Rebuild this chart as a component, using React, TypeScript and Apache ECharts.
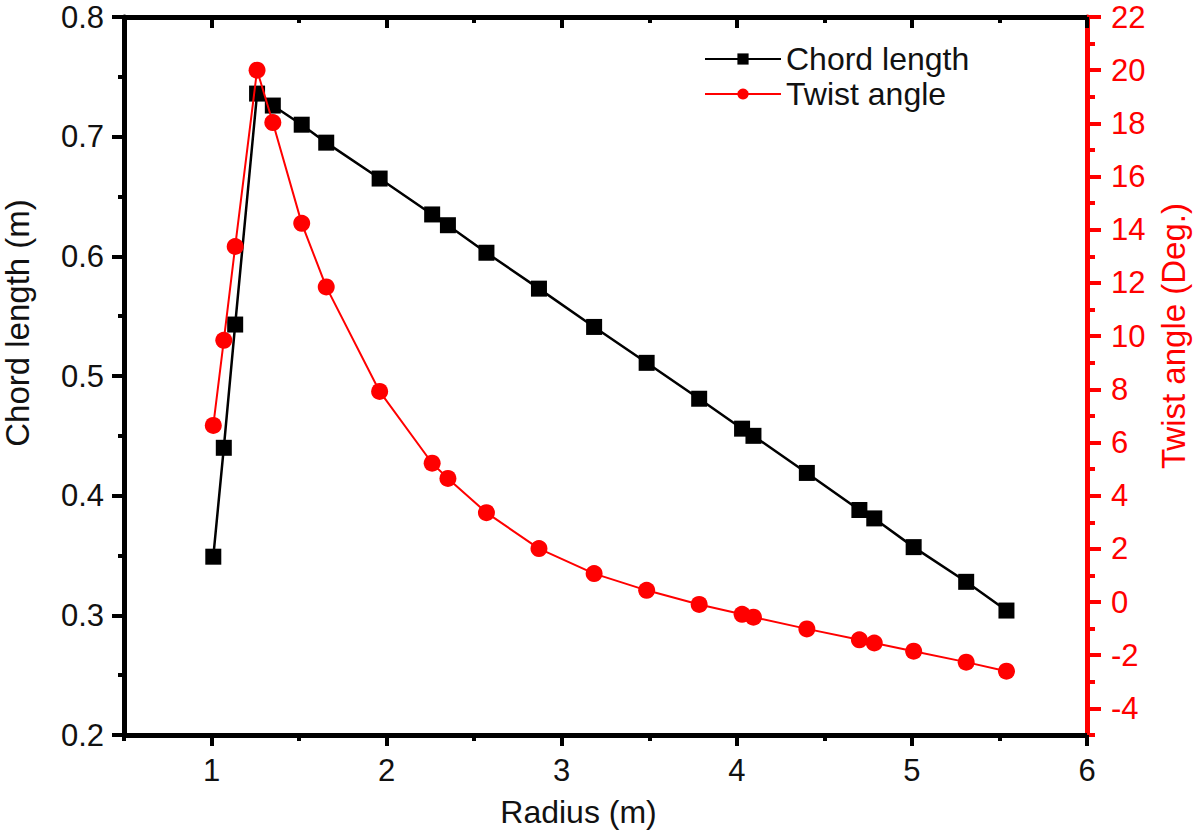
import { useEffect, useRef } from "react";
import * as echarts from "echarts";

// radius (m) of each blade station
const radius = [1.01, 1.07, 1.135, 1.26, 1.35, 1.515, 1.655, 1.96, 2.26, 2.35, 2.57, 2.87, 3.185, 3.485, 3.785, 4.03, 4.095, 4.4, 4.7, 4.785, 5.01, 5.31, 5.54];
const chordLength = [0.349, 0.44, 0.543, 0.736, 0.726, 0.71, 0.695, 0.665, 0.635, 0.626, 0.603, 0.573, 0.541, 0.511, 0.481, 0.456, 0.45, 0.419, 0.388, 0.381, 0.357, 0.328, 0.304];
const twistAngle = [6.64, 9.84, 13.37, 20.0, 18.03, 14.24, 11.85, 7.92, 5.22, 4.65, 3.36, 2.01, 1.07, 0.44, -0.09, -0.46, -0.57, -1.01, -1.42, -1.54, -1.85, -2.26, -2.6];

const xMajor = [1, 2, 3, 4, 5, 6];
const xMinor = [0.5, 1.5, 2.5, 3.5, 4.5, 5.5];
const twistMajor = [-4, -2, 0, 2, 4, 6, 8, 10, 12, 14, 16, 18, 20, 22];
const twistMinor = [-5, -3, -1, 1, 3, 5, 7, 9, 11, 13, 15, 17, 19, 21];

const FONT = "'Liberation Sans', Arial, sans-serif";
const RED = "#ff0000";
const INK = "#111111";

const App = () => {
  const chartRef = useRef(null);

  useEffect(() => {
    if (!chartRef.current) return;
    const chart = echarts.init(chartRef.current, null, { renderer: "svg" });

    const xBase = {
      type: "value",
      min: 0.5,
      max: 6,
      splitLine: { show: false },
    };
    const blackTick = { width: 4, color: "#000" };
    const redTick = { width: 4, color: RED };

    const option = {
      animation: false,
      backgroundColor: "#ffffff",
      textStyle: { fontFamily: FONT },
      grid: { left: 124, right: 113, top: 17, bottom: 102, containLabel: false, outerBoundsMode: "none" },
      legend: {
        orient: "vertical",
        left: 699,
        top: 38,
        itemWidth: 76,
        itemHeight: 14,
        itemGap: 3,
        textStyle: { fontSize: 32, color: INK, fontFamily: FONT },
        data: ["Chord length", "Twist angle"],
      },
      xAxis: [
        {
          ...xBase,
          position: "bottom",
          name: "Radius (m)",
          nameLocation: "middle",
          nameGap: 61,
          nameTextStyle: { fontSize: 32, color: INK, padding: [0, 54, 0, 0] },
          axisLine: { onZero: false, lineStyle: { color: "#000", width: 5 } },
          axisTick: { customValues: xMajor, length: 11, lineStyle: blackTick },
          axisLabel: { customValues: xMajor, fontSize: 31, color: INK, margin: 20 },
        },
        {
          ...xBase,
          position: "bottom",
          axisLine: { show: false, onZero: false },
          axisTick: { customValues: xMinor, length: 6, lineStyle: blackTick },
          axisLabel: { show: false },
        },
        {
          ...xBase,
          position: "top",
          axisLine: { onZero: false, lineStyle: { color: "#000", width: 5 } },
          axisTick: { customValues: xMajor, inside: true, length: 11, lineStyle: blackTick },
          axisLabel: { show: false },
        },
        {
          ...xBase,
          position: "top",
          axisLine: { show: false, onZero: false },
          axisTick: { customValues: xMinor, inside: true, length: 6, lineStyle: blackTick },
          axisLabel: { show: false },
        },
      ],
      yAxis: [
        {
          type: "value",
          position: "left",
          min: 0.2,
          max: 0.8,
          interval: 0.1,
          name: "Chord length (m)",
          nameLocation: "middle",
          nameGap: 90,
          nameTextStyle: { fontSize: 33, color: INK, padding: [0, 0, 0, 106] },
          splitLine: { show: false },
          axisLine: { show: true, onZero: false, lineStyle: { color: "#000", width: 5 } },
          axisTick: { show: true, length: 12, lineStyle: blackTick },
          minorTick: { show: true, splitNumber: 2, length: 6, lineStyle: blackTick },
          axisLabel: { fontSize: 31, color: INK, margin: 20, formatter: (v) => v.toFixed(1) },
        },
        {
          type: "value",
          position: "right",
          min: -5,
          max: 22,
          name: "Twist angle (Deg.)",
          nameLocation: "middle",
          nameGap: 70,
          nameRotate: 90,
          nameTextStyle: { fontSize: 33, color: RED, padding: [0, 0, 0, 80] },
          splitLine: { show: false },
          axisLine: { show: true, onZero: false, lineStyle: { color: RED, width: 5 } },
          axisTick: { show: true, customValues: twistMajor, length: 14, lineStyle: redTick },
          axisLabel: { customValues: twistMajor, fontSize: 31, color: RED, margin: 24 },
        },
        {
          type: "value",
          position: "right",
          min: -5,
          max: 22,
          splitLine: { show: false },
          axisLine: { show: false, onZero: false },
          axisTick: { show: true, customValues: twistMinor, length: 8, lineStyle: redTick },
          axisLabel: { show: false },
        },
      ],
      series: [
        {
          name: "Chord length",
          type: "line",
          xAxisIndex: 0,
          yAxisIndex: 0,
          data: radius.map((r, i) => [r, chordLength[i]]),
          symbol: "rect",
          symbolSize: 16,
          lineStyle: { color: "#000", width: 2.5 },
          itemStyle: { color: "#000" },
          z: 3,
        },
        {
          name: "Twist angle",
          type: "line",
          xAxisIndex: 0,
          yAxisIndex: 1,
          data: radius.map((r, i) => [r, twistAngle[i]]),
          symbol: "circle",
          symbolSize: 17,
          lineStyle: { color: RED, width: 2 },
          itemStyle: { color: RED },
          z: 4,
        },
      ],
    };

    chart.setOption(option);

    return () => {
      chart.dispose();
    };
  }, []);

  return (
    <div
      ref={chartRef}
      style={{ position: "fixed", left: 0, top: 0, width: 1200, height: 837, background: "#fff" }}
    />
  );
};

export default App;
